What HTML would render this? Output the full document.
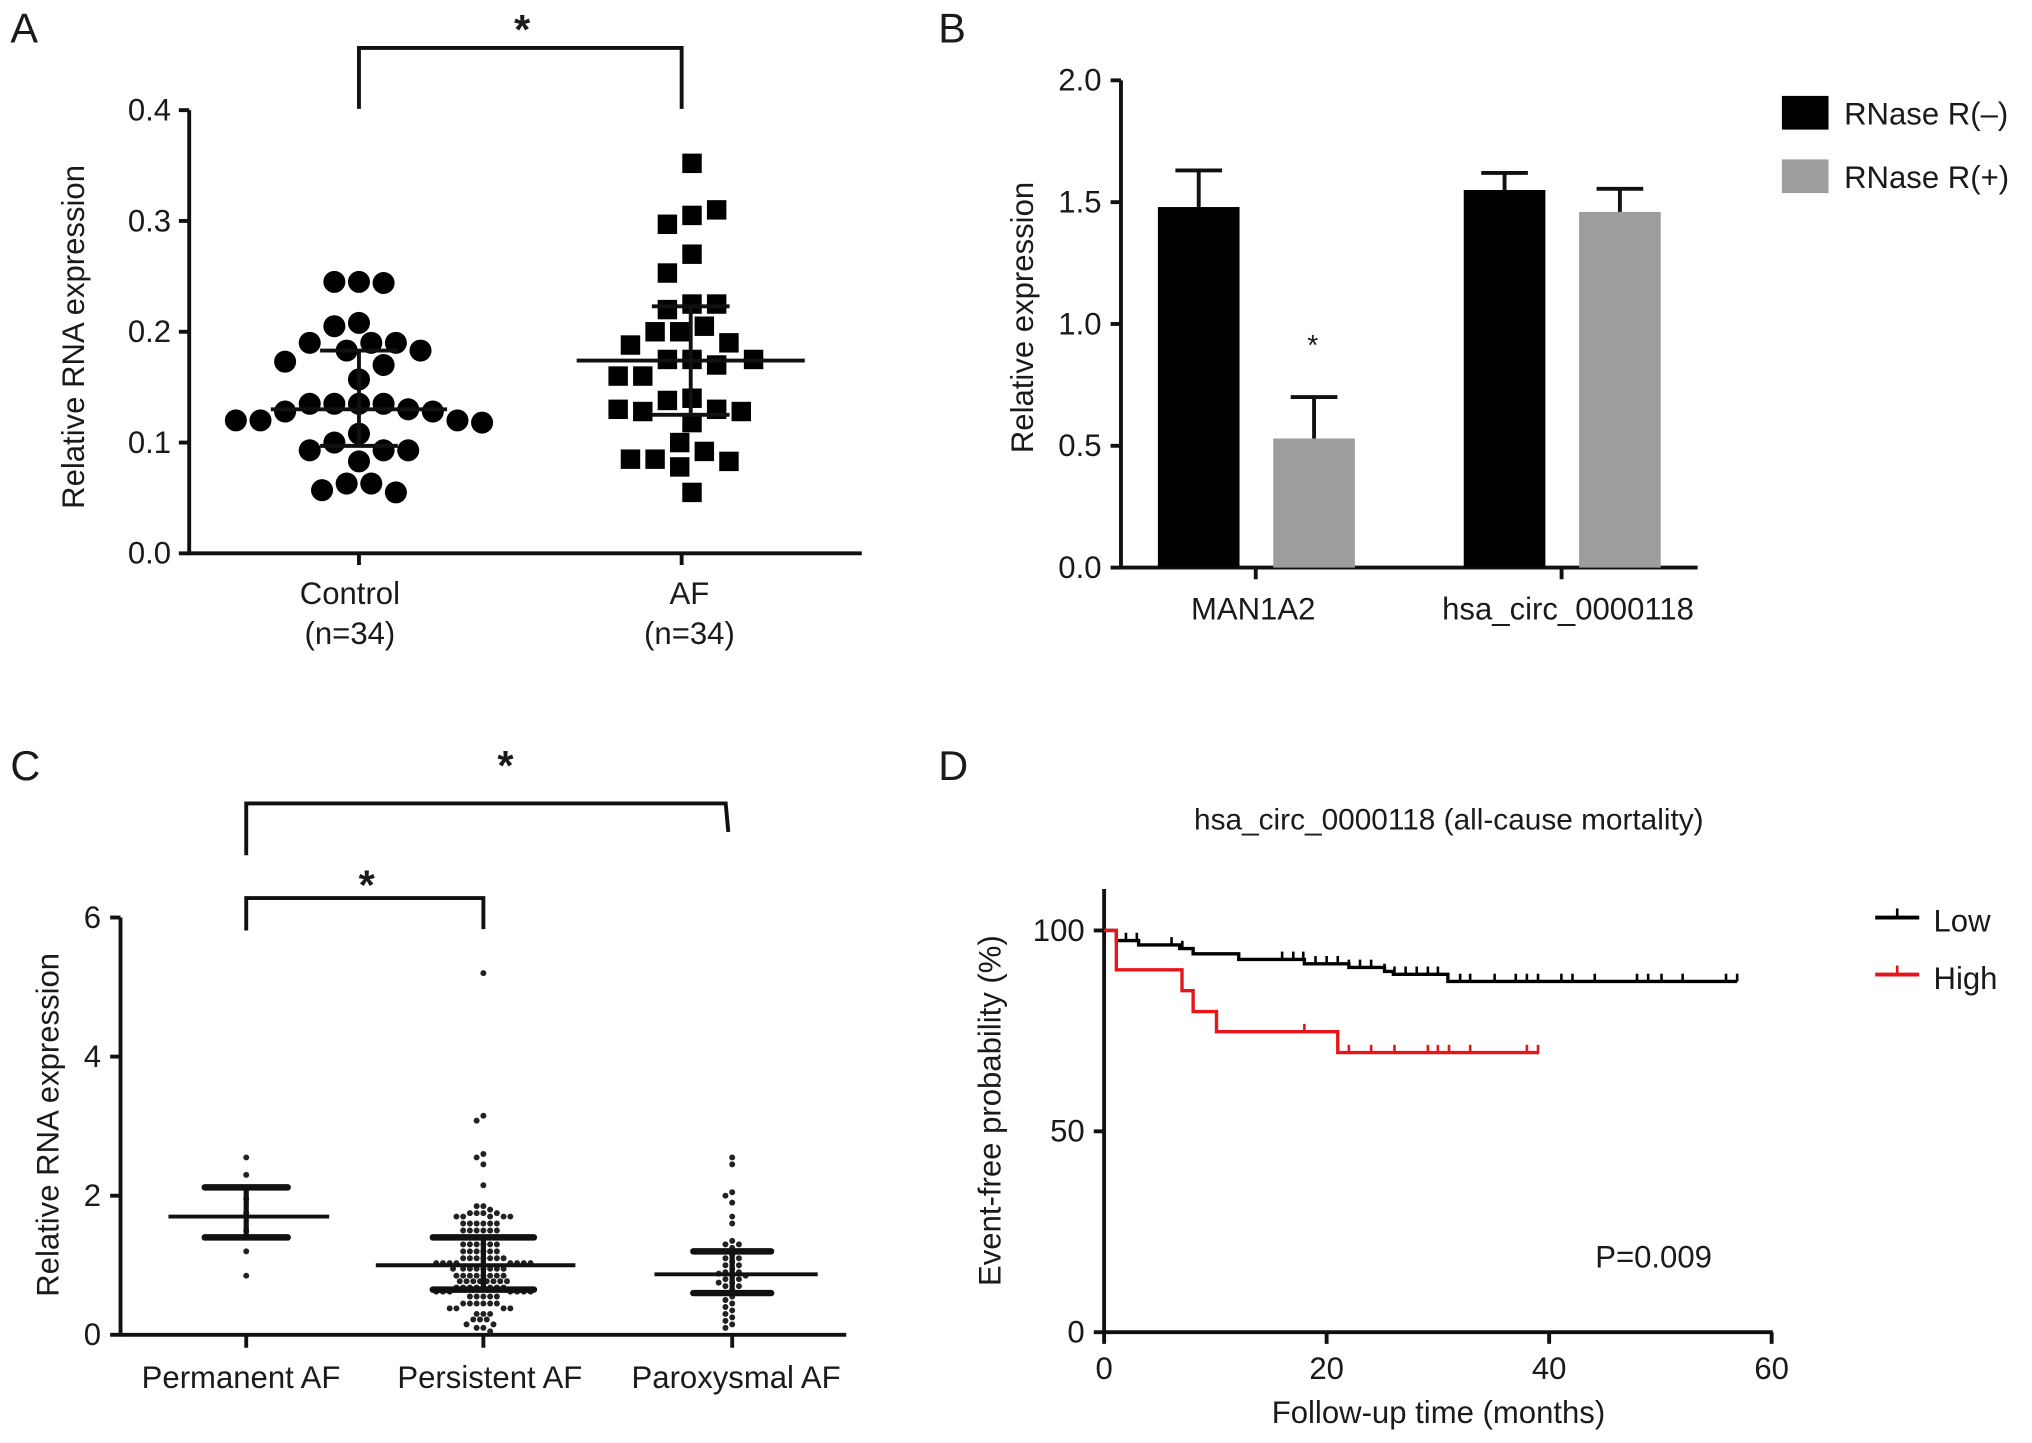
<!DOCTYPE html>
<html><head><meta charset="utf-8"><style>
html,body{margin:0;padding:0;background:#fff;}
svg{display:block;}
text{font-family:"Liberation Sans",Arial,sans-serif;fill:#1a1a1a;}
</style></head><body>
<svg id="fig" width="2032" height="1443" viewBox="0 0 1568 1113.5" preserveAspectRatio="none" xmlns="http://www.w3.org/2000/svg">
<rect x="0" y="0" width="1568" height="1113.5" fill="#fff"/>
<text x="8" y="33" font-size="32">A</text>
<text x="724" y="33" font-size="32">B</text>
<text x="8" y="602" font-size="32">C</text>
<text x="724" y="602" font-size="32">D</text>

<g id="pA" stroke="#111" stroke-width="3" fill="none"></g>
<g id="pB" stroke="#111" stroke-width="3" fill="none"></g>
<g id="pC" stroke="#111" stroke-width="3" fill="none"></g>
<g id="pD" stroke="#111" stroke-width="3" fill="none"></g>

<text x="65" y="260" font-size="24" text-anchor="middle" transform="rotate(-90 65 260)">Relative RNA expression</text>
<text x="270" y="466" font-size="24" text-anchor="middle">Control</text>
<text x="270" y="497" font-size="24" text-anchor="middle">(n=34)</text>
<text x="532" y="466" font-size="24" text-anchor="middle">AF</text>
<text x="532" y="497" font-size="24" text-anchor="middle">(n=34)</text>
<text x="403" y="34" font-size="32" text-anchor="middle" font-weight="bold">*</text>

<text x="797" y="245" font-size="24" text-anchor="middle" transform="rotate(-90 797 245)">Relative expression</text>
<text x="967" y="478" font-size="24" text-anchor="middle">MAN1A2</text>
<text x="1210" y="478" font-size="24" text-anchor="middle">hsa_circ_0000118</text>
<text x="1013" y="274" font-size="22" text-anchor="middle">*</text>
<rect x="1375" y="74" width="36" height="26" fill="#000"/>
<text x="1423" y="96" font-size="24">RNase R(–)</text>
<rect x="1375" y="123" width="36" height="26" fill="#9d9da0"/>
<text x="1423" y="145" font-size="24">RNase R(+)</text>

<text x="45" y="868" font-size="24" text-anchor="middle" transform="rotate(-90 45 868)">Relative RNA expression</text>
<text x="186" y="1071" font-size="24" text-anchor="middle">Permanent AF</text>
<text x="378" y="1071" font-size="24" text-anchor="middle">Persistent AF</text>
<text x="568" y="1071" font-size="24" text-anchor="middle">Paroxysmal AF</text>
<text x="390" y="602" font-size="32" text-anchor="middle" font-weight="bold">*</text>
<text x="283" y="694" font-size="32" text-anchor="middle" font-weight="bold">*</text>

<text x="1118" y="640" font-size="23" text-anchor="middle">hsa_circ_0000118 (all-cause mortality)</text>
<text x="772" y="857" font-size="24" text-anchor="middle" transform="rotate(-90 772 857)">Event-free probability (%)</text>
<text x="1110" y="1098" font-size="24" text-anchor="middle">Follow-up time (months)</text>
<text x="1276" y="978" font-size="24" text-anchor="middle">P=0.009</text>
<line x1="1447" y1="708" x2="1481" y2="708" stroke="#000" stroke-width="3"/>
<line x1="1464" y1="708" x2="1464" y2="701" stroke="#000" stroke-width="2"/>
<text x="1492" y="719" font-size="24">Low</text>
<line x1="1447" y1="752" x2="1481" y2="752" stroke="#e8141b" stroke-width="3"/>
<line x1="1464" y1="752" x2="1464" y2="745" stroke="#e8141b" stroke-width="2"/>
<text x="1492" y="763" font-size="24">High</text>
</svg>
<script>
const aCategories = ["Control", "AF"];
const aControlValues = [0.245,0.245,0.244,0.208,0.205,0.19,0.19,0.19,0.183,0.183,0.173,0.17,0.157,0.135,0.135,0.135,0.135,0.13,0.128,0.128,0.12,0.12,0.12,0.108,0.1,0.093,0.093,0.093,0.083,0.063,0.063,0.057,0.055,0.118];
const aAFValues = [0.352,0.305,0.297,0.31,0.27,0.253,0.225,0.22,0.225,0.205,0.2,0.2,0.19,0.188,0.175,0.175,0.175,0.17,0.16,0.16,0.14,0.138,0.13,0.128,0.128,0.13,0.118,0.1,0.092,0.085,0.083,0.085,0.078,0.055];
const aMedians = [0.13, 0.174];
const aQ1 = [0.097, 0.125];
const aQ3 = [0.183, 0.223];
const aTicks = [0, 0.1, 0.2, 0.3, 0.4];
const aTickLabels = ["0.0","0.1","0.2","0.3","0.4"];
const bGroups = ["MAN1A2", "hsa_circ_0000118"];
const bMinusValues = [1.48, 1.55];
const bMinusErr = [0.15, 0.07];
const bPlusValues = [0.53, 1.46];
const bPlusErr = [0.17, 0.095];
const bTicks = [0, 0.5, 1.0, 1.5, 2.0];
const bTickLabels = ["0.0","0.5","1.0","1.5","2.0"];
const cCategories = ["Permanent AF","Persistent AF","Paroxysmal AF"];
const cPermanent = [2.55,2.3,2.1,1.95,1.75,1.5,1.2,0.85];
const cPersistent = [5.2,3.15,3.08,2.6,2.55,2.45,2.15,1.85,1.85,1.8,1.75,1.75,1.75,1.75,1.7,1.7,1.7,1.7,1.7,1.6,1.6,1.6,1.6,1.6,1.6,1.5,1.5,1.5,1.5,1.5,1.5,1.4,1.4,1.4,1.4,1.4,1.4,1.4,1.3,1.3,1.3,1.3,1.3,1.3,1.2,1.2,1.2,1.2,1.2,1.2,1.1,1.1,1.1,1.1,1.1,1.1,1.1,1.03,1.03,1.03,1.03,1.03,1.03,1.03,1.03,0.95,0.95,0.95,0.95,0.95,0.95,0.95,0.95,0.85,0.85,0.85,0.85,0.85,0.85,0.85,0.85,0.77,0.77,0.77,0.77,0.77,0.77,0.77,0.77,0.68,0.68,0.68,0.68,0.68,0.68,0.68,0.68,0.62,0.62,0.62,0.62,0.62,0.62,0.62,0.55,0.55,0.55,0.55,0.55,0.45,0.45,0.45,0.45,0.45,0.45,0.38,0.38,0.38,0.38,0.3,0.3,0.3,0.22,0.22,0.22,0.15,0.15,0.1,0.1,0.05];
const cParoxysmal = [2.55,2.45,2.05,2.0,1.9,1.7,1.6,1.35,1.3,1.3,1.25,1.2,1.2,1.15,1.1,1.1,1.05,1.0,1.0,0.95,0.9,0.9,0.88,0.85,0.85,0.8,0.8,0.75,0.75,0.7,0.7,0.65,0.6,0.6,0.55,0.5,0.45,0.4,0.35,0.3,0.25,0.2,0.15,0.1];
const cMedians = [1.7, 1.0, 0.87];
const cQ1 = [1.4, 0.65, 0.6];
const cQ3 = [2.12, 1.4, 1.2];
const cTicks = [0,2,4,6];
const cTickLabels = ["0","2","4","6"];
const dLowSteps = [[0,100],[1.1,97.5],[3.1,96.4],[6.8,95.5],[8.0,94.2],[12.1,92.8],[18.0,91.7],[22.0,90.8],[25.2,89.8],[26.0,89.1],[30.9,87.3]];
const dLowEnd = 56.9;
const dLowCensor = [1.96,2.94,6.06,7.03,16.0,17.0,17.9,19.0,20.0,21.0,22.0,23.0,24.0,25.2,26.1,27.1,28.1,29.1,30.0,32.0,32.9,35.1,37.0,38.0,39.0,41.1,42.1,44.1,47.9,48.9,50.1,52.0,55.9,56.9];
const dHighSteps = [[0,100],[1.1,90.2],[7.0,85.0],[8.0,79.8],[10.1,74.8],[21.0,69.6]];
const dHighEnd = 39.1;
const dHighCensor = [18.0,22.0,24.0,26.1,29.1,30.0,31.0,32.9,38.0,39.0];
const dXTicks = [0,20,40,60];
const dYTicks = [0,50,100];

const NS = "http://www.w3.org/2000/svg";
function mk(tag, parent, attrs){
  const e = document.createElementNS(NS, tag);
  for (const k in attrs) e.setAttribute(k, attrs[k]);
  parent.appendChild(e);
  return e;
}
// collision-based beeswarm: returns [cy, xOffset]
function beeswarm(values, yfn, d){
  const placed = []; const out = [];
  const s = d / 2;
  values.forEach(v => {
    const cy = yfn(v);
    for (let k = 0; k < 400; k++) {
      const off = k === 0 ? 0 : (k % 2 ? -1 : 1) * Math.ceil(k / 2) * s;
      const ok = placed.every(p => (p[0]-off)*(p[0]-off) + (p[1]-cy)*(p[1]-cy) >= d*d*0.9);
      if (ok) { placed.push([off, cy]); out.push([cy, off]); break; }
    }
  });
  return out;
}

(function(){
  const g = document.getElementById('pA');
  const y = v => 427 - v / 0.4 * 342;
  const xc = [277, 526];
  let e = mk('line', g, {x1:146,y1:85,x2:146,y2:428});
   
  e = mk('line', g, {x1:145,y1:427,x2:665,y2:427});
   
  aTicks.forEach((t,i) => {
    const tl = mk('line', g, {x1:138,y1:y(t),x2:146,y2:y(t)});
     
    const tx = mk('text', g, {x:132,y:y(t)+8,'font-size':24,'text-anchor':'end',stroke:'none',fill:'#1a1a1a'});
    tx.textContent = aTickLabels[i];
     
  });
  xc.forEach(x => {
    const tl = mk('line', g, {x1:x,y1:427,x2:x,y2:436});
     
  });
  const br = mk('polyline', g, {points:`${xc[0]},84 ${xc[0]},37 ${xc[1]},37 ${xc[1]},84`});
   
  beeswarm(aControlValues, y, 19).forEach(([cy,off]) => {
    const c = mk('circle', g, {cx:xc[0]+off, cy:cy, r:8.5, fill:'#000', stroke:'none'});
     
  });
  beeswarm(aAFValues, y, 19).forEach(([cy,off]) => {
    const c = mk('rect', g, {x:xc[1]+8+off-7.5, y:cy-7.5, width:15, height:15, fill:'#000', stroke:'none'});
     
  });
  const mw = [68, 88];
  const cx2 = [277, 533];
  [0,1].forEach(i => {
    const m = mk('line', g, {x1:cx2[i]-mw[i],y1:y(aMedians[i]),x2:cx2[i]+mw[i],y2:y(aMedians[i])});
     
    const ev = mk('line', g, {x1:cx2[i],y1:y(aQ1[i]),x2:cx2[i],y2:y(aQ3[i])});
     
    [aQ1[i],aQ3[i]].forEach(q => {
      const cap = mk('line', g, {x1:cx2[i]-30,y1:y(q),x2:cx2[i]+30,y2:y(q)});
       
    });
  });
})();

(function(){
  const g = document.getElementById('pB');
  const y = v => 438 - v / 2 * 376;
  const groupX = [925, 1161];
  const bw = 63, gap = 89;
  let e = mk('line', g, {x1:865,y1:62,x2:865,y2:439});
   
  e = mk('line', g, {x1:864,y1:438,x2:1310,y2:438});
   
  bTicks.forEach((t,i) => {
    const tl = mk('line', g, {x1:857,y1:y(t),x2:865,y2:y(t)});
     
    const tx = mk('text', g, {x:850,y:y(t)+8,'font-size':24,'text-anchor':'end',stroke:'none',fill:'#1a1a1a'});
    tx.textContent = bTickLabels[i];
     
  });
  groupX.forEach((gx,i) => {
    const tl = mk('line', g, {x1:gx+44,y1:438,x2:gx+44,y2:447});
     
    [[bMinusValues[i],bMinusErr[i],'#000',0,'b-bar-rnase-minus'],[bPlusValues[i],bPlusErr[i],'#9d9da0',gap,'b-bar-rnase-plus']].forEach(([v,err,col,dx,name]) => {
      const cx = gx + dx;
      const r = mk('rect', g, {x:cx-bw/2,y:y(v),width:bw,height:438-y(v),fill:col,stroke:'none'});
       
      const ev = mk('line', g, {x1:cx,y1:y(v),x2:cx,y2:y(v+err)});
       
      const cap = mk('line', g, {x1:cx-18,y1:y(v+err),x2:cx+18,y2:y(v+err)});
       
    });
  });
})();

(function(){
  const g = document.getElementById('pC');
  const y = v => 1030 - v / 6 * 322;
  const xc = [190, 373, 565];
  let e = mk('line', g, {x1:93,y1:708,x2:93,y2:1031});
   
  e = mk('line', g, {x1:92,y1:1030,x2:653,y2:1030});
   
  cTicks.forEach((t,i) => {
    const tl = mk('line', g, {x1:85,y1:y(t),x2:93,y2:y(t)});
     
    const tx = mk('text', g, {x:78,y:y(t)+8,'font-size':24,'text-anchor':'end',stroke:'none',fill:'#1a1a1a'});
    tx.textContent = cTickLabels[i];
     
  });
  xc.forEach(x => {
    const tl = mk('line', g, {x1:x,y1:1030,x2:x,y2:1040});
     
  });
  let b = mk('polyline', g, {points:`190,660 190,620 560,620 562,642`});
   
  b = mk('polyline', g, {points:`190,718 190,693 373,693 373,717`});
   
  [cPermanent, cPersistent, cParoxysmal].forEach((vals, i) => {
    beeswarm(vals, y, 5.2).forEach(([cy,off]) => {
      const c = mk('circle', g, {cx:xc[i]+off, cy:cy, r:2.3, fill:'#222', stroke:'none'});
       
    });
  });
  const mw = [62, 77, 63], cw = [32, 39, 30];
  const cxm = [192, 367, 568];
  [0,1,2].forEach(i => {
    const m = mk('line', g, {x1:cxm[i]-mw[i],y1:y(cMedians[i]),x2:cxm[i]+mw[i],y2:y(cMedians[i])});
     
    const ev = mk('line', g, {x1:xc[i],y1:y(cQ1[i]),x2:xc[i],y2:y(cQ3[i]),'stroke-width':4});
     
    [cQ1[i],cQ3[i]].forEach(q => {
      const cap = mk('line', g, {x1:xc[i]-cw[i],y1:y(q),x2:xc[i]+cw[i],y2:y(q),'stroke-width':5,'stroke-linecap':'round'});
       
    });
  });
})();

(function(){
  const g = document.getElementById('pD');
  const x = m => 852 + m / 20 * 171.7;
  const y = v => 1028 - v * 3.1;
  let e = mk('line', g, {x1:852,y1:686,x2:852,y2:1029});
   
  e = mk('line', g, {x1:851,y1:1028,x2:1368,y2:1028});
   
  dYTicks.forEach(t => {
    const tl = mk('line', g, {x1:844,y1:y(t),x2:852,y2:y(t)});
     
    const tx = mk('text', g, {x:837,y:y(t)+8,'font-size':24,'text-anchor':'end',stroke:'none',fill:'#1a1a1a'});
    tx.textContent = String(t);
     
  });
  dXTicks.forEach(t => {
    const tl = mk('line', g, {x1:x(t),y1:1028,x2:x(t),y2:1037});
     
    const tx = mk('text', g, {x:x(t),y:1064,'font-size':24,'text-anchor':'middle',stroke:'none',fill:'#1a1a1a'});
    tx.textContent = String(t);
     
  });
  function curve(steps, end, censor, col, name){
    let pts = [];
    steps.forEach((s,i) => {
      if (i > 0) pts.push([x(s[0]), y(steps[i-1][1])]);
      pts.push([x(s[0]), y(s[1])]);
    });
    pts.push([x(end), y(steps[steps.length-1][1])]);
    const p = mk('polyline', g, {points: pts.map(q=>q.join(',')).join(' '), stroke:col, 'stroke-width':2.6});
     
    censor.forEach(m => {
      let v = steps[0][1];
      steps.forEach(s => { if (s[0] <= m) v = s[1]; });
      const t = mk('line', g, {x1:x(m),y1:y(v),x2:x(m),y2:y(v)-6,stroke:col,'stroke-width':2});
       
    });
  }
  curve(dLowSteps, dLowEnd, dLowCensor, '#000', 'd-curve-low');
  curve(dHighSteps, dHighEnd, dHighCensor, '#e8141b', 'd-curve-high');
})();
</script>
</body></html>
